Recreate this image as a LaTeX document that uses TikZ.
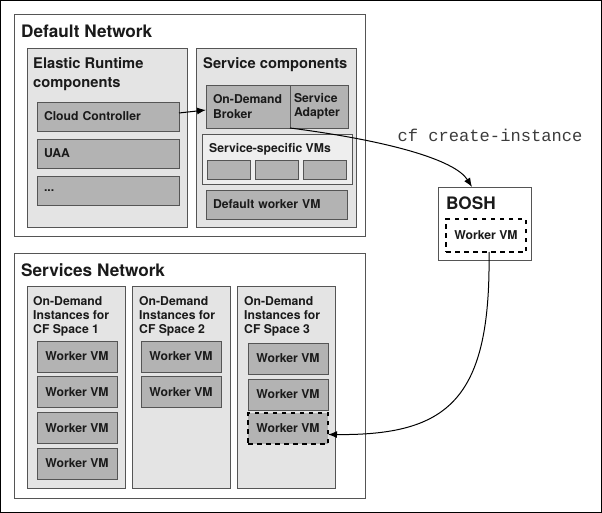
\documentclass[tikz,border=0pt]{standalone}
\usepackage{fontspec}
\setmainfont{TeX Gyre Heros}
\setmonofont{Liberation Mono}
\usetikzlibrary{positioning,arrows.meta}
\definecolor{edge}{HTML}{555555}
\definecolor{pale}{HTML}{E4E4E4}
\definecolor{paler}{HTML}{EEEEEE}
\definecolor{vmgray}{HTML}{B3B3B3}
\definecolor{ink}{HTML}{1A1A1A}
\newcommand{\netfont}{\fontsize{17.2}{20}\selectfont\bfseries}
\newcommand{\grpfont}{\fontsize{14.7}{18.3}\selectfont\bfseries}
\newcommand{\vmfont}{\fontsize{12.2}{14.2}\selectfont\bfseries}
\begin{document}
\begin{tikzpicture}[x=1pt,y=1pt,node distance=35.7pt]
\tikzstyle{net}=[draw=edge,fill=white,line width=0.9pt,inner sep=0pt,outer sep=0pt]
\tikzstyle{grp}=[net,fill=pale]
\tikzstyle{vm}=[net,fill=vmgray,font=\vmfont,text=ink,minimum width=80,minimum height=31]
\tikzstyle{newvm}=[vm,draw=black,line width=2pt,dash pattern=on 4.5pt off 4.5pt]
\tikzstyle{title}=[anchor=base west,inner sep=0pt,text=ink,align=left]
\tikzstyle{call}=[-{Latex[length=9pt,width=7pt]},line width=1pt]
\useasboundingbox (0,0) rectangle (602,-513);
\draw[line width=1pt] (0.5,-0.5) rectangle (601.5,-512.5);
\node[net,minimum width=351,minimum height=222] (dn) at (189.5,-125) {};
\node[title,font=\netfont] (dnt) at ([shift={(7,-24)}]dn.north west) {Default Network};
\node[grp,minimum width=160,minimum height=179] (er) at (107,-137.5) {};
\node[title,font=\grpfont] (ert) at ([shift={(6,-39.3)}]er.north west) {Elastic Runtime\\components};
\node[grp,minimum width=160,minimum height=179] (sc) at (276,-137.5) {};
\node[title,font=\grpfont] (sct) at ([shift={(7,-21)}]sc.north west) {Service components};
\node[vm,minimum width=142,minimum height=29,text width=128,align=left] (cc) at (108,-116.5) {Cloud Controller};
\node[vm,minimum width=142,minimum height=29,text width=128,align=left,node distance=37pt] (uaa) [below of=cc] {UAA};
\node[vm,minimum width=142,minimum height=29,text width=128,align=left,node distance=37pt] (more) [below of=uaa] {...};
\node[vm,minimum width=84,minimum height=43,text width=70,align=left] (ond) at (248,-106.5) {On-Demand\\Broker};
\node[vm,minimum width=58,minimum height=43,text width=50,align=left] (sa) [right=0pt of ond] {Service\\Adapter};
\node[net,fill=paler,minimum width=150,minimum height=50] (ss) at (277,-159) {};
\node[title,font=\vmfont] (sst) at ([shift={(7,-19)}]ss.north west) {Service-specific VMs};
\node[vm,minimum width=43,minimum height=19] (s1) at (228.5,-169.5) {};
\node[vm,minimum width=43,minimum height=19] (s2) [right=5pt of s1] {};
\node[vm,minimum width=43,minimum height=19] (s3) [right=5pt of s2] {};
\node[vm,minimum width=141,minimum height=29,text width=127,align=left] (dw) at (276.5,-204.5) {Default worker VM};
\node[net,minimum width=93,minimum height=73] (bosh) at (484.5,-223.5) {};
\node[title,font=\netfont] (bosht) at ([shift={(8,-22)}]bosh.north west) {BOSH};
\node[newvm,fill=white,minimum height=33] (bw) at (486,-235.5) {Worker VM};
\node[anchor=base,inner sep=0pt,text=ink!85,font=\ttfamily\fontsize{17.1}{20}\selectfont] (cmd) at (490,-142) {cf create-instance};
\node[net,minimum width=351,minimum height=245] (sn) at (189.5,-375.5) {};
\node[title,font=\netfont] (snt) at ([shift={(7,-23)}]sn.north west) {Services Network};
\node[grp,minimum width=98,minimum height=202] (sp1) at (76,-387) {};
\node[grp,minimum width=98,minimum height=202] (sp2) [right=7pt of sp1] {};
\node[grp,minimum width=98,minimum height=202] (sp3) [right=7pt of sp2] {};
\node[title,font=\vmfont] at ([shift={(6,-47.4)}]sp1.north west) {On-Demand\\Instances for\\CF Space 1};
\node[title,font=\vmfont] at ([shift={(7,-47.4)}]sp2.north west) {On-Demand\\Instances for\\CF Space 2};
\node[title,font=\vmfont] at ([shift={(7,-47.4)}]sp3.north west) {On-Demand\\Instances for\\CF Space 3};
\node[vm] (a1) at (77,-356.5) {Worker VM};
\node[vm] (a2) [below of=a1] {Worker VM};
\node[vm] (a3) [below of=a2] {Worker VM};
\node[vm] (a4) [below of=a3] {Worker VM};
\node[vm] (b1) at (181,-356.5) {Worker VM};
\node[vm] (b2) [below of=b1] {Worker VM};
\node[vm] (c1) at (288,-358.5) {Worker VM};
\node[vm] (c2) [below of=c1,node distance=36pt] {Worker VM};
\node[newvm] (c3) [below of=c2,node distance=34pt] {Worker VM};
\draw[call] ([yshift=3.5]cc.east) -- ([yshift=-3.5]ond.west);
\draw[call] (ond.south east) .. controls +(100,-13) and +(-17,27) .. ([xshift=-12.5]bosh.north);
\draw[call] ([xshift=3]bw.south) .. controls +(2,-148) and +(120,-1) .. ([yshift=-6]c3.east);
\end{tikzpicture}
\end{document}
